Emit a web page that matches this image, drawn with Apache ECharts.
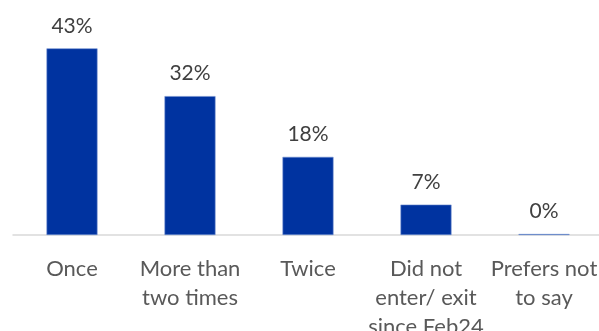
<!DOCTYPE html>
<html>
<head>
<meta charset="utf-8">
<script src="https://cdn.jsdelivr.net/npm/echarts@6/dist/echarts.min.js"></script>
<style>
  html, body { margin: 0; padding: 0; background: #ffffff; }
  #chart { width: 599px; height: 331px; }
</style>
</head>
<body>
<div id="chart"></div>
<script>
// Number of entries/exits since Feb 2024 (share of respondents, %)
const categories = ['Once', 'More than\ntwo times', 'Twice', 'Did not\nenter/ exit\nsince Feb24', 'Prefers not\nto say'];
const shares = [43, 32, 18, 7, 0];

const chart = echarts.init(document.getElementById('chart'));
const fontFamily = 'Lato, "Open Sans", sans-serif';

chart.setOption({
  animation: false,
  grid: {
    left: 13, right: -4, top: 18, bottom: 96,
    containLabel: false,
    outerBoundsMode: 'none'
  },
  xAxis: {
    type: 'category',
    data: categories,
    axisLine: { lineStyle: { color: '#d9d9d9', width: 1.5 } },
    axisTick: { show: false },
    axisLabel: {
      color: '#595959',
      fontFamily: fontFamily,
      fontSize: 22,
      lineHeight: 29,
      margin: 19,
      interval: 0
    }
  },
  yAxis: {
    type: 'value',
    min: 0,
    max: 50,
    show: false,
    splitLine: { show: false }
  },
  series: [{
    type: 'bar',
    data: shares,
    barWidth: 51,
    barMinHeight: 1,
    itemStyle: { color: '#0033a0', borderColor: '#6f8fd0', borderWidth: 0.6 },
    label: {
      show: true,
      position: 'top',
      distance: 12,
      formatter: '{c}%',
      color: '#404040',
      fontFamily: fontFamily,
      fontSize: 21
    }
  }]
});
</script>
</body>
</html>
